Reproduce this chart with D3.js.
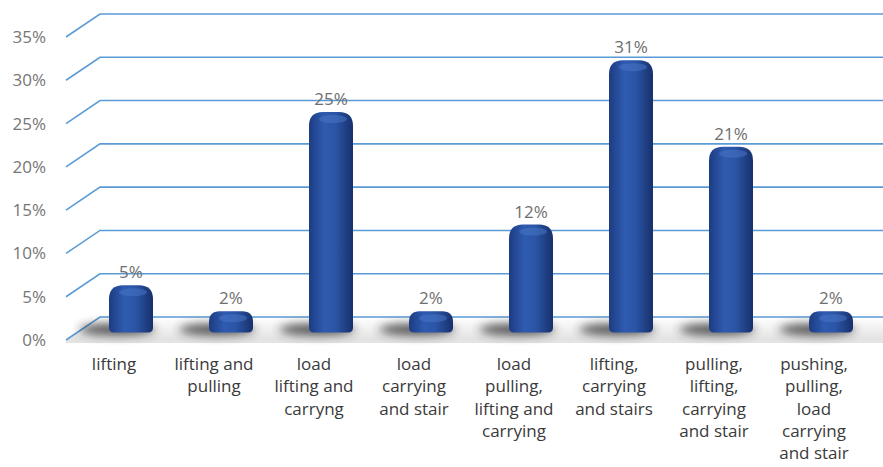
<!DOCTYPE html>
<html>
<head>
<meta charset="utf-8">
<script src="https://cdn.jsdelivr.net/npm/d3@7"></script>
<style>
  body { margin: 0; background: #fff; }
  text { font-family: "Open Sans", "Liberation Sans", Arial, sans-serif; }
  .ylab { font-size: 17px; fill: #767676; }
  .vlab { font-size: 17px; fill: #6e6e6e; }
  .clab { font-size: 17px; fill: #3a3a3a; }
</style>
</head>
<body>
<div id="chart"></div>
<script>
// chart data
var categories = [
  ['lifting'],
  ['lifting and', 'pulling'],
  ['load', 'lifting and', 'carryng'],
  ['load', 'carrying', 'and stair'],
  ['load', 'pulling,', 'lifting and', 'carrying'],
  ['lifting,', 'carrying', 'and stairs'],
  ['pulling,', 'lifting,', 'carrying', 'and stair'],
  ['pushing,', 'pulling,', 'load', 'carrying', 'and stair']
];
var values = [0.05, 0.02, 0.25, 0.02, 0.12, 0.31, 0.21, 0.02];
var yTicks = [0, 0.05, 0.10, 0.15, 0.20, 0.25, 0.30, 0.35];

var svgWidth = 883, svgHeight = 467;

// depth offset of the 3d floor / back wall
var depthX = 34, depthY = -23;

var svg = d3.select('#chart').append('svg')
  .attr('width', svgWidth)
  .attr('height', svgHeight);

var defs = svg.append('defs');

var barGrad = defs.append('linearGradient')
  .attr('id', 'barGrad').attr('x1', '0%').attr('x2', '100%').attr('y1', '0%').attr('y2', '0%');
barGrad.append('stop').attr('offset', '0%').attr('stop-color', '#1d3c82');
barGrad.append('stop').attr('offset', '35%').attr('stop-color', '#2f5bb0');
barGrad.append('stop').attr('offset', '60%').attr('stop-color', '#2b55a6');
barGrad.append('stop').attr('offset', '100%').attr('stop-color', '#17306c');

var floorGrad = defs.append('linearGradient')
  .attr('id', 'floorGrad').attr('x1', '0%').attr('x2', '0%').attr('y1', '0%').attr('y2', '100%');
floorGrad.append('stop').attr('offset', '0%').attr('stop-color', '#ffffff');
floorGrad.append('stop').attr('offset', '100%').attr('stop-color', '#e2e2e2');

defs.append('filter').attr('id', 'blur')
  .attr('x', '-50%').attr('y', '-100%').attr('width', '200%').attr('height', '300%')
  .append('feGaussianBlur').attr('stdDeviation', 5);

// scales
var x = d3.scaleBand()
  .domain(d3.range(categories.length))
  .range([64, 864])
  .paddingInner(0);

var y = d3.scaleLinear()
  .domain([0, 0.35])
  .range([340, 37]);

// floor
var y0 = y(0);
svg.append('path')
  .attr('d', `M66,${y0} L${66 + depthX},${y0 + depthY} L${svgWidth},${y0 + depthY} L${svgWidth},${y0} Z`)
  .attr('fill', 'url(#floorGrad)');
svg.append('rect')
  .attr('x', 66).attr('y', y0).attr('width', svgWidth - 66).attr('height', 3)
  .attr('fill', '#e4e4e4');

// gridlines: slanted side wall then flat back wall
svg.append('g').selectAll('path')
  .data(yTicks)
  .enter()
  .append('path')
  .attr('d', d => `M66,${y(d)} L${66 + depthX},${y(d) + depthY} L${svgWidth},${y(d) + depthY}`)
  .attr('fill', 'none')
  .attr('stroke', '#5b9bd5')
  .attr('stroke-width', 1.6);

// y axis labels
var yAxis = d3.axisLeft(y)
  .tickValues(yTicks)
  .tickFormat(d3.format('.0%'))
  .tickSize(0)
  .tickPadding(0);

var yAxisG = svg.append('g')
  .attr('transform', 'translate(46,0)')
  .call(yAxis);
yAxisG.select('.domain').remove();
yAxisG.selectAll('text')
  .attr('class', 'ylab')
  .attr('font-family', null)
  .attr('font-size', null);

// bars sit half way into the depth
var midX = depthX / 2, midY = depthY / 2;
var barW = 44;
var base = y0 + midY + 4;

function barPath(d, i) {
  var cx = x(i) + x.bandwidth() / 2 + midX;
  var left = cx - barW / 2, right = cx + barW / 2;
  var top = y(d) + midY;
  var r = Math.min(14, (base - top) / 2);
  var rb = 5;
  return `M${left},${base - rb}` +
    `L${left},${top + r}` +
    `Q${left},${top} ${left + r},${top}` +
    `L${right - r},${top}` +
    `Q${right},${top} ${right},${top + r}` +
    `L${right},${base - rb}` +
    `Q${right},${base} ${right - rb},${base}` +
    `L${left + rb},${base}` +
    `Q${left},${base} ${left},${base - rb}Z`;
}

// shadows
svg.append('g').selectAll('ellipse')
  .data(values)
  .enter()
  .append('ellipse')
  .attr('cx', (d, i) => x(i) + x.bandwidth() / 2 + midX - 14)
  .attr('cy', base - 3)
  .attr('rx', 38)
  .attr('ry', 6)
  .attr('fill', '#2e2e2e')
  .attr('opacity', 0.8)
  .attr('filter', 'url(#blur)');

svg.append('g').selectAll('path')
  .data(values)
  .enter()
  .append('path')
  .attr('d', barPath)
  .attr('fill', 'url(#barGrad)');

// top highlight
svg.append('g').selectAll('ellipse')
  .data(values)
  .enter()
  .append('ellipse')
  .attr('cx', (d, i) => x(i) + x.bandwidth() / 2 + midX + 2)
  .attr('cy', d => y(d) + midY + 7)
  .attr('rx', 14)
  .attr('ry', 4)
  .attr('fill', '#4a78c8')
  .attr('opacity', 0.5);

// value labels
svg.append('g').selectAll('text')
  .data(values)
  .enter()
  .append('text')
  .attr('class', 'vlab')
  .attr('x', (d, i) => x(i) + x.bandwidth() / 2 + midX)
  .attr('y', d => y(d) + midY - 7)
  .attr('text-anchor', 'middle')
  .text(d => d3.format('.0%')(d));

// category labels
var catG = svg.append('g').selectAll('text')
  .data(categories)
  .enter()
  .append('text')
  .attr('class', 'clab')
  .attr('text-anchor', 'middle')
  .attr('x', (d, i) => x(i) + x.bandwidth() / 2)
  .attr('y', 370);

catG.selectAll('tspan')
  .data(d => d)
  .enter()
  .append('tspan')
  .attr('x', function () { return d3.select(this.parentNode).attr('x'); })
  .attr('dy', (d, j) => j === 0 ? 0 : 22.3)
  .text(d => d);
</script>
</body>
</html>
